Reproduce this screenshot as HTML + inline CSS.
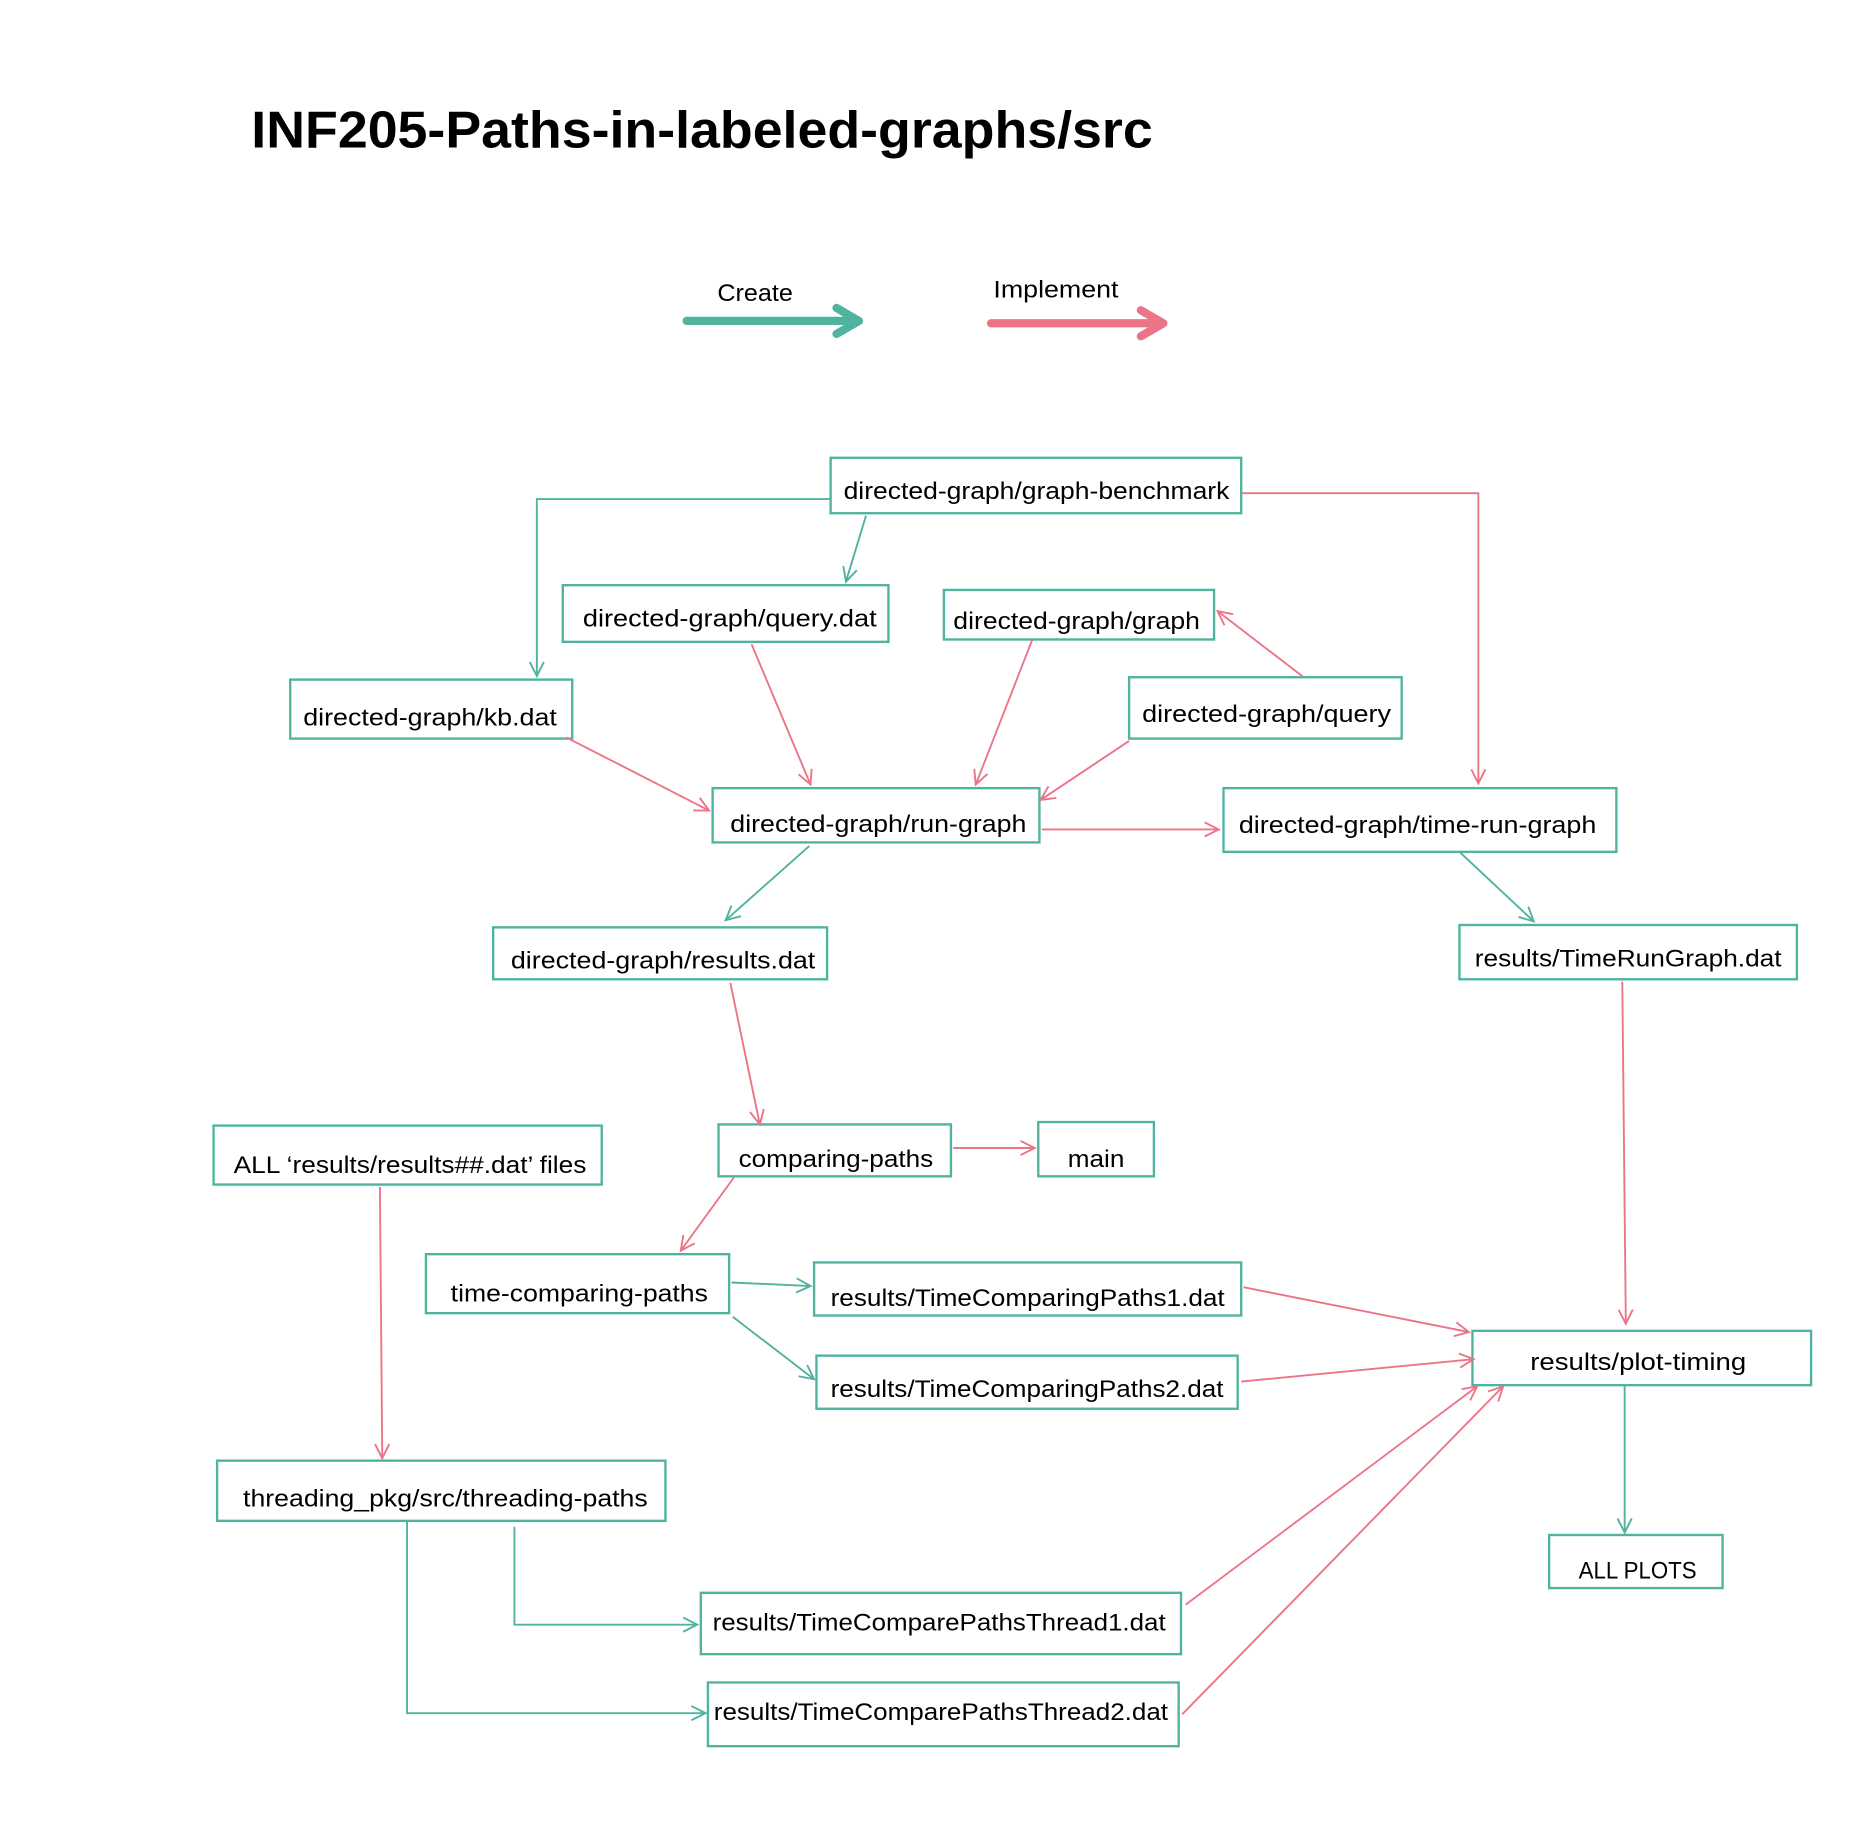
<!DOCTYPE html>
<html><head><meta charset="utf-8"><style>
html,body{margin:0;padding:0;background:#fff;}
svg{display:block;}
text{font-family:"Liberation Sans",sans-serif;fill:#000;}
</style></head><body>
<svg width="1850" height="1846" viewBox="0 0 1568 1564.6" preserveAspectRatio="none" xmlns="http://www.w3.org/2000/svg">
<defs>
<marker id="t" markerUnits="userSpaceOnUse" markerWidth="20" markerHeight="20" refX="13" refY="7" orient="auto"><path d="M1,1 L13,7 L1,13" fill="none" stroke="#4fb39f" stroke-width="1.6"/></marker>
<marker id="p" markerUnits="userSpaceOnUse" markerWidth="20" markerHeight="20" refX="13" refY="7" orient="auto"><path d="M1,1 L13,7 L1,13" fill="none" stroke="#ec7487" stroke-width="1.6"/></marker>
</defs>
<text x="213" y="125" font-size="44" font-weight="bold" textLength="764" lengthAdjust="spacingAndGlyphs">INF205-Paths-in-labeled-graphs/src</text>
<text x="608" y="255" font-size="20" textLength="64" lengthAdjust="spacingAndGlyphs">Create</text>
<text x="842" y="252" font-size="20" textLength="106" lengthAdjust="spacingAndGlyphs">Implement</text>
<g stroke-linecap="round" stroke-linejoin="round" fill="none" stroke-width="7">
<path d="M582,272 L726,272 M709,261 L728,272 L709,283" stroke="#4fb39f"/>
<path d="M840,274 L984,274 M967,263 L986,274 L967,285" stroke="#ec7487"/>
</g>
<g fill="none" stroke="#4fb39f" stroke-width="2">
<rect x="704" y="388" width="348" height="47"/>
<rect x="477" y="496" width="276" height="48"/>
<rect x="800" y="500" width="229" height="42"/>
<rect x="246" y="576" width="239" height="50"/>
<rect x="957" y="574" width="231" height="52"/>
<rect x="604" y="668" width="277" height="46"/>
<rect x="1037" y="668" width="333" height="54"/>
<rect x="418" y="786" width="283" height="44"/>
<rect x="1237" y="784" width="286" height="46"/>
<rect x="181" y="954" width="329" height="50"/>
<rect x="609" y="953" width="197" height="44"/>
<rect x="880" y="951" width="98" height="46"/>
<rect x="361" y="1063" width="257" height="50"/>
<rect x="690" y="1070" width="362" height="45"/>
<rect x="692" y="1149" width="357" height="45"/>
<rect x="1248" y="1128" width="287" height="46"/>
<rect x="184" y="1238" width="380" height="51"/>
<rect x="1313" y="1301" width="147" height="45"/>
<rect x="594" y="1350" width="407" height="52"/>
<rect x="600" y="1426" width="399" height="54"/>
</g>
<g font-size="20">
<text x="715" y="423" textLength="327" lengthAdjust="spacingAndGlyphs">directed-graph/graph-benchmark</text>
<text x="494" y="531" textLength="249" lengthAdjust="spacingAndGlyphs">directed-graph/query.dat</text>
<text x="808" y="533" textLength="209" lengthAdjust="spacingAndGlyphs">directed-graph/graph</text>
<text x="257" y="615" textLength="215" lengthAdjust="spacingAndGlyphs">directed-graph/kb.dat</text>
<text x="968" y="612" textLength="211" lengthAdjust="spacingAndGlyphs">directed-graph/query</text>
<text x="619" y="705" textLength="251" lengthAdjust="spacingAndGlyphs">directed-graph/run-graph</text>
<text x="1050" y="706" textLength="303" lengthAdjust="spacingAndGlyphs">directed-graph/time-run-graph</text>
<text x="433" y="821" textLength="258" lengthAdjust="spacingAndGlyphs">directed-graph/results.dat</text>
<text x="1250" y="819" textLength="260" lengthAdjust="spacingAndGlyphs">results/TimeRunGraph.dat</text>
<text x="198" y="994" textLength="299" lengthAdjust="spacingAndGlyphs">ALL ‘results/results##.dat’ files</text>
<text x="626" y="989" textLength="165" lengthAdjust="spacingAndGlyphs">comparing-paths</text>
<text x="905" y="989" textLength="48" lengthAdjust="spacingAndGlyphs">main</text>
<text x="382" y="1103" textLength="218" lengthAdjust="spacingAndGlyphs">time-comparing-paths</text>
<text x="704" y="1107" textLength="334" lengthAdjust="spacingAndGlyphs">results/TimeComparingPaths1.dat</text>
<text x="704" y="1184" textLength="333" lengthAdjust="spacingAndGlyphs">results/TimeComparingPaths2.dat</text>
<text x="1297" y="1161" textLength="183" lengthAdjust="spacingAndGlyphs">results/plot-timing</text>
<text x="206" y="1277" textLength="343" lengthAdjust="spacingAndGlyphs">threading_pkg/src/threading-paths</text>
<text x="1338" y="1338" textLength="100" lengthAdjust="spacingAndGlyphs">ALL PLOTS</text>
<text x="604" y="1382" textLength="384" lengthAdjust="spacingAndGlyphs">results/TimeComparePathsThread1.dat</text>
<text x="605" y="1458" textLength="385" lengthAdjust="spacingAndGlyphs">results/TimeComparePathsThread2.dat</text>
</g>
<g fill="none" stroke="#4fb39f" stroke-width="1.6" marker-end="url(#t)">
<polyline points="704,423 455,423 455,573"/>
<line x1="734" y1="437" x2="717" y2="493"/>
<line x1="686" y1="717" x2="615" y2="780"/>
<line x1="1237" y1="722" x2="1300" y2="781"/>
<line x1="620" y1="1087" x2="687" y2="1090"/>
<line x1="621" y1="1116" x2="690" y2="1169"/>
<line x1="1377" y1="1174" x2="1377" y2="1299"/>
<polyline points="436,1294 436,1377 591,1377"/>
<polyline points="345,1289 345,1452 598,1452"/>
</g>
<g fill="none" stroke="#ec7487" stroke-width="1.6" marker-end="url(#p)">
<polyline points="1052,418 1253,418 1253,664"/>
<line x1="637" y1="546" x2="687" y2="665"/>
<line x1="875" y1="542" x2="827" y2="665"/>
<line x1="1105" y1="574" x2="1032" y2="518"/>
<line x1="957" y1="628" x2="882" y2="678"/>
<line x1="480" y1="625" x2="601" y2="687"/>
<line x1="883" y1="703" x2="1033" y2="703"/>
<line x1="619" y1="833" x2="644" y2="953"/>
<line x1="1375" y1="832" x2="1378" y2="1122"/>
<line x1="808" y1="973" x2="877" y2="973"/>
<line x1="622" y1="998" x2="577" y2="1060"/>
<line x1="1054" y1="1091" x2="1245" y2="1129"/>
<line x1="1052" y1="1171" x2="1249" y2="1152"/>
<line x1="322" y1="1006" x2="324" y2="1236"/>
<line x1="1005" y1="1360" x2="1252" y2="1175"/>
<line x1="1002" y1="1453" x2="1274" y2="1175"/>
</g>
</svg>
</body></html>
